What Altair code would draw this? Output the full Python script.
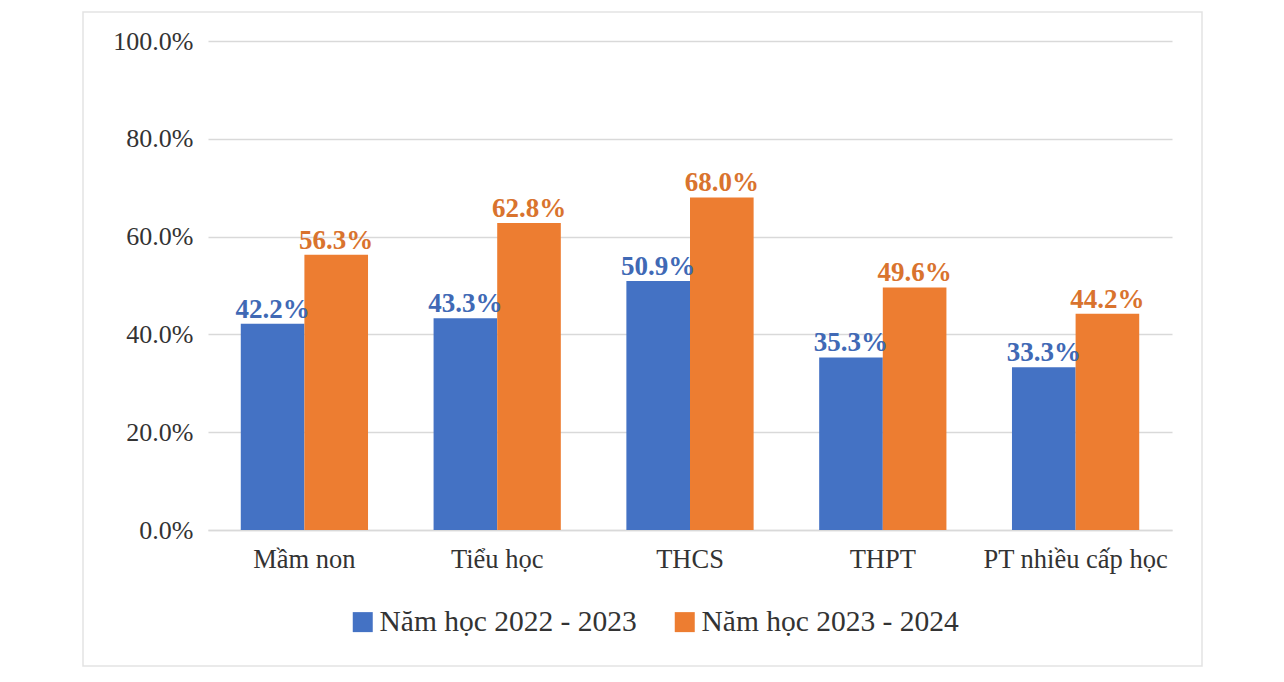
import altair as alt
import pandas as pd

categories = ["Mầm non", "Tiểu học", "THCS", "THPT", "PT nhiều cấp học"]
series = ["Năm học 2022 - 2023", "Năm học 2023 - 2024"]
values_2022 = [42.2, 43.3, 50.9, 35.3, 33.3]
values_2023 = [56.3, 62.8, 68.0, 49.6, 44.2]
y_ticks = [0, 0.2, 0.4, 0.6, 0.8, 1.0]

rows = []
for c, a, b in zip(categories, values_2022, values_2023):
    rows.append({"cat": c, "series": series[0], "v": a / 100})
    rows.append({"cat": c, "series": series[1], "v": b / 100})
df = pd.DataFrame(rows)

FONT = "Liberation Serif"
bar_colors = ["#4472C4", "#ED7D31"]
text_colors = ["#4069B5", "#D9732E"]

x = alt.X("cat:N", sort=categories, title=None,
          scale=alt.Scale(paddingInner=0.34, paddingOuter=0.17),
          axis=alt.Axis(labelAngle=0, labelFont=FONT, labelFontSize=26.5,
                        labelColor="#333333", labelPadding=16, ticks=False,
                        domainColor="#D9D9D9", domainWidth=1.5, labelLimit=400))
xo = alt.XOffset("series:N", sort=series, scale=alt.Scale(paddingInner=0, paddingOuter=0))
y = alt.Y("v:Q", title=None,
          scale=alt.Scale(domain=[0, 1]),
          axis=alt.Axis(values=y_ticks, format=".1%", labelFont=FONT, labelFontSize=26,
                        labelColor="#333333", labelPadding=15, ticks=False, domain=False,
                        gridColor="#D9D9D9", gridWidth=1.5))

bars = alt.Chart(df).mark_bar().encode(
    x=x, xOffset=xo, y=y,
    color=alt.Color("series:N", sort=series,
                    scale=alt.Scale(domain=series, range=bar_colors),
                    legend=alt.Legend(title=None, orient="none", legendX=140, legendY=566,
                                      direction="horizontal", symbolType="square",
                                      symbolSize=400, symbolStrokeWidth=0,
                                      labelFont=FONT, labelFontSize=29.5,
                                      labelColor="#333333", labelOffset=2,
                                      columnPadding=33, padding=0, labelLimit=500)),
)

labels = alt.Chart(df).mark_text(font=FONT, fontSize=27, fontWeight="bold",
                                 baseline="alphabetic", dy=-6).encode(
    x=x, xOffset=xo, y=y,
    text=alt.Text("v:Q", format=".1%"),
    color=alt.Color("series:N", sort=series,
                    scale=alt.Scale(domain=series, range=text_colors), legend=None),
)

border = alt.Chart(pd.DataFrame({"a": [0]})).mark_rect(
    fillOpacity=0, stroke="#E3E3E3", strokeWidth=1.5).encode(
    x=alt.value(-125), x2=alt.value(994), y=alt.value(-29), y2=alt.value(625))

chart = alt.layer(border, bars, labels).resolve_scale(color="independent").properties(
    width=964, height=489,
    autosize=alt.AutoSizeParams(type="none"),
    padding={"left": 200, "top": 33, "right": 90, "bottom": 142},
    background="white",
).configure_view(stroke=None)

chart.save("out.html", embed_options={"renderer": "svg", "actions": False})
